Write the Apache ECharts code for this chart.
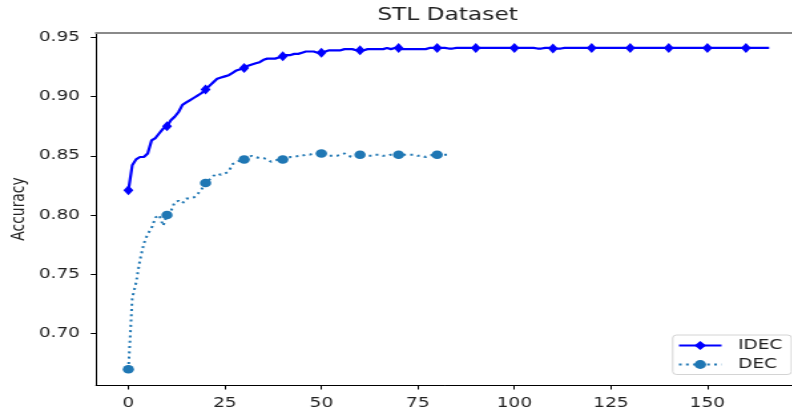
<!DOCTYPE html>
<html><head><meta charset="utf-8">
<script src="https://cdn.jsdelivr.net/npm/echarts@6/dist/echarts.min.js"></script>
<style>
html,body{margin:0;padding:0;background:#fff;overflow:hidden}
#wrap{width:792px;height:407px;overflow:hidden;position:relative}
#chart{width:596px;height:407px;transform:scaleX(1.33);transform-origin:0 0}
</style></head><body><div id="wrap"><div id="chart"></div></div>
<script>
// Epoch values
const idecAcc = [
  0.821,0.842,0.847,0.849,0.849,0.852,0.863,0.865,0.869,0.873,
  0.875,0.880,0.883,0.887,0.893,0.895,0.897,0.899,0.901,0.903,
  0.906,0.909,0.912,0.915,0.916,0.917,0.918,0.920,0.922,0.923,
  0.924,0.926,0.927,0.928,0.929,0.931,0.932,0.932,0.932,0.933,
  0.934,0.935,0.935,0.936,0.936,0.937,0.938,0.938,0.938,0.937,
  0.937,0.938,0.939,0.939,0.939,0.939,0.940,0.940,0.940,0.939,
  0.939,0.939,0.940,0.940,0.940,0.940,0.940,0.941,0.940,0.941,
  0.941,0.940,0.940,0.940,0.940,0.940,0.940,0.940,0.941,0.941,
  0.941,0.941,0.941,0.9405,0.9405,0.941,0.941,0.941,0.941,0.941,
  0.941,0.941,0.941,0.941,0.941,0.941,0.941,0.941,0.941,0.941,
  0.941,0.941,0.941,0.941,0.941,0.941,0.9405,0.9405,0.941,0.941,
  0.9405,0.9405,0.9405,0.941,0.941,0.941,0.941,0.941,0.941,0.941,
  0.941,0.941,0.941,0.941,0.941,0.941,0.941,0.941,0.941,0.941,
  0.941,0.941,0.941,0.941,0.941,0.941,0.941,0.941,0.941,0.941,
  0.941,0.941,0.941,0.941,0.941,0.941,0.941,0.941,0.941,0.941,
  0.941,0.941,0.941,0.941,0.941,0.941,0.941,0.941,0.941,0.941,
  0.941,0.941,0.941,0.941,0.941,0.941,0.941
];
const decAcc = [
  0.670,0.730,0.743,0.762,0.776,0.784,0.789,0.798,0.800,0.791,
  0.800,0.803,0.811,0.812,0.810,0.814,0.814,0.815,0.818,0.822,
  0.827,0.830,0.833,0.835,0.834,0.835,0.837,0.843,0.845,0.846,
  0.847,0.849,0.850,0.849,0.848,0.848,0.847,0.845,0.846,0.847,
  0.847,0.848,0.849,0.849,0.850,0.850,0.851,0.851,0.852,0.852,
  0.852,0.851,0.850,0.850,0.850,0.851,0.852,0.850,0.849,0.850,
  0.851,0.850,0.850,0.850,0.851,0.851,0.850,0.850,0.851,0.851,
  0.851,0.851,0.851,0.851,0.851,0.850,0.850,0.849,0.850,0.851,
  0.851,0.851,0.851,0.851
];
const idecEpochs = idecAcc.map((_, i) => i);
const decEpochs = decAcc.map((_, i) => i);
const markerEpochs = [0,10,20,30,40,50,60,70,80,90,100,110,120,130,140,150,160];
const xTicks = [0,25,50,75,100,125,150];
const yTicks = [0.70,0.75,0.80,0.85,0.90,0.95];
const seriesNames = ['IDEC','DEC'];

const FONT = 'DejaVu Sans';
const chart = echarts.init(document.getElementById('chart'), null, {renderer:'canvas'});

function build(epochs, vals, sym) {
  return epochs.map((x, i) => ({
    value: [x, vals[i]],
    symbol: markerEpochs.indexOf(x) >= 0 ? sym : 'none'
  }));
}

const xRange = {min: -8.38, max: 172.1};
chart.setOption({
  animation: false,
  backgroundColor: '#fff',
  title: {
    text: 'STL Dataset', left: 336.5, top: 6, textAlign: 'center', padding: 0,
    textStyle: {fontFamily: FONT, fontSize: 17.5, fontWeight: 'normal', color: '#222'}
  },
  grid: {left: 72.2, right: 0, top: 33, bottom: 22, containLabel: false, outerBoundsMode: 'none'},
  legend: {
    orient: 'vertical', left: 505.8, top: 335,
    data: seriesNames,
    itemWidth: 32, itemHeight: 11, itemGap: 5,
    padding: [3.5, 6.8, 3, 3.7],
    borderColor: '#d4d4d4', borderWidth: 1, borderRadius: 3,
    backgroundColor: 'rgba(255,255,255,0.8)',
    textStyle: {fontFamily: FONT, fontSize: 13.9, color: '#222', padding: [0,0,0,7.5]}
  },
  xAxis: [{
    type: 'value', min: xRange.min, max: xRange.max,
    splitLine: {show: false},
    axisLine: {onZero: false, lineStyle: {color: '#000', width: 1}},
    axisTick: {show: true, length: 4.5, lineStyle: {color: '#000'}, customValues: xTicks},
    axisLabel: {customValues: xTicks, margin: 11, fontFamily: FONT, fontSize: 13.9, color: '#222'}
  }, {
    type: 'value', position: 'top', min: xRange.min, max: xRange.max,
    splitLine: {show: false},
    axisLine: {onZero: false, lineStyle: {color: '#8a8a8a', width: 2}},
    axisTick: {show: false}, axisLabel: {show: false}
  }],
  yAxis: {
    type: 'value', min: 0.6567, max: 0.9536,
    name: 'Accuracy', nameLocation: 'middle', nameGap: 51, nameRotate: 90,
    nameMoveOverlap: false,
    nameTextStyle: {fontFamily: FONT, fontSize: 13.9, color: '#222'},
    splitLine: {show: false},
    axisLine: {onZero: false, lineStyle: {color: '#000', width: 1}},
    axisTick: {show: true, length: 4, lineStyle: {color: '#000'}, customValues: yTicks},
    axisLabel: {customValues: yTicks, margin: 12, fontFamily: FONT, fontSize: 13.9, color: '#222',
      formatter: v => v.toFixed(2)}
  },
  series: [{
    name: seriesNames[0], type: 'line',
    data: build(idecEpochs, idecAcc, 'diamond'),
    symbol: 'diamond', symbolSize: [7.5, 10], showAllSymbol: true,
    lineStyle: {color: '#0000ff', width: 2.2},
    itemStyle: {color: '#0000ff'},
    z: 3
  }, {
    name: seriesNames[1], type: 'line',
    data: build(decEpochs, decAcc, 'circle'),
    symbol: 'circle', symbolSize: 8.5, showAllSymbol: true,
    lineStyle: {color: '#1f77b4', width: 2, type: [2, 3.3]},
    itemStyle: {color: '#1f77b4'},
    z: 2
  }]
});
</script></body></html>
